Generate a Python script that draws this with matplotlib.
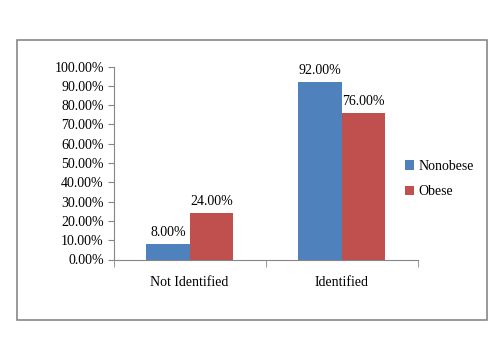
import matplotlib
matplotlib.use("Agg")
import matplotlib.pyplot as plt
from matplotlib.patches import Rectangle
import numpy as np

categories = ["Not Identified", "Identified"]
nonobese = [0.08, 0.92]
obese = [0.24, 0.76]
series_names = ["Nonobese", "Obese"]
yticks = [0.0, 0.1, 0.2, 0.3, 0.4, 0.5, 0.6, 0.7, 0.8, 0.9, 1.0]

plt.rcParams['font.family'] = ['Liberation Serif', 'DejaVu Serif']
fs = 10
W, H = 504, 360
fig = plt.figure(figsize=(W/100, H/100), dpi=100)
fig.patches.append(Rectangle((16.5/W, 1-319.5/H), 470/W, 280/H, transform=fig.transFigure,
                             fill=False, edgecolor='#888888', linewidth=1.2))
ax = fig.add_axes([113.5/W, 1-259.5/H, (418-113.5)/W, (259.5-66.5)/H])

x = np.arange(len(categories))
bw = 0.286
colors = ['#4F81BD', '#C0504D']
b1 = ax.bar(x - bw/2, nonobese, bw, color=colors[0], label=series_names[0])
b2 = ax.bar(x + bw/2, obese, bw, color=colors[1], label=series_names[1])
for bars, vals in ((b1, nonobese), (b2, obese)):
    for r, v in zip(bars, vals):
        ax.annotate(f"{v*100:.2f}%", (r.get_x() + r.get_width()/2, v), xytext=(0, 3.5),
                    textcoords='offset points', ha='center', va='bottom', fontsize=fs)

ax.set_xlim(-0.5, 1.5)
ax.set_ylim(0, 1)
ax.set_yticks(yticks)
ax.set_yticklabels([f"{t*100:.2f}%" for t in yticks], fontsize=fs)
ax.set_xticks(x)
ax.set_xticklabels(categories, fontsize=fs)
ax.set_xticks([-0.5, 0.5, 1.5], minor=True)
ax.tick_params(axis='x', which='major', length=0, pad=12)
ax.tick_params(axis='x', which='minor', length=5, color='#868686', direction='out')
ax.tick_params(axis='y', length=4, color='#868686', direction='out', pad=3)
for s in ['top', 'right']:
    ax.spines[s].set_visible(False)
for s in ['left', 'bottom']:
    ax.spines[s].set_color('#868686')

ax.legend(loc='center left', bbox_to_anchor=(392/W, 1-179/H), bbox_transform=fig.transFigure,
          frameon=False, fontsize=fs, handlelength=0.7, handleheight=0.7, handletextpad=0.3,
          labelspacing=0.9)

fig.savefig("out.png", dpi=100)
